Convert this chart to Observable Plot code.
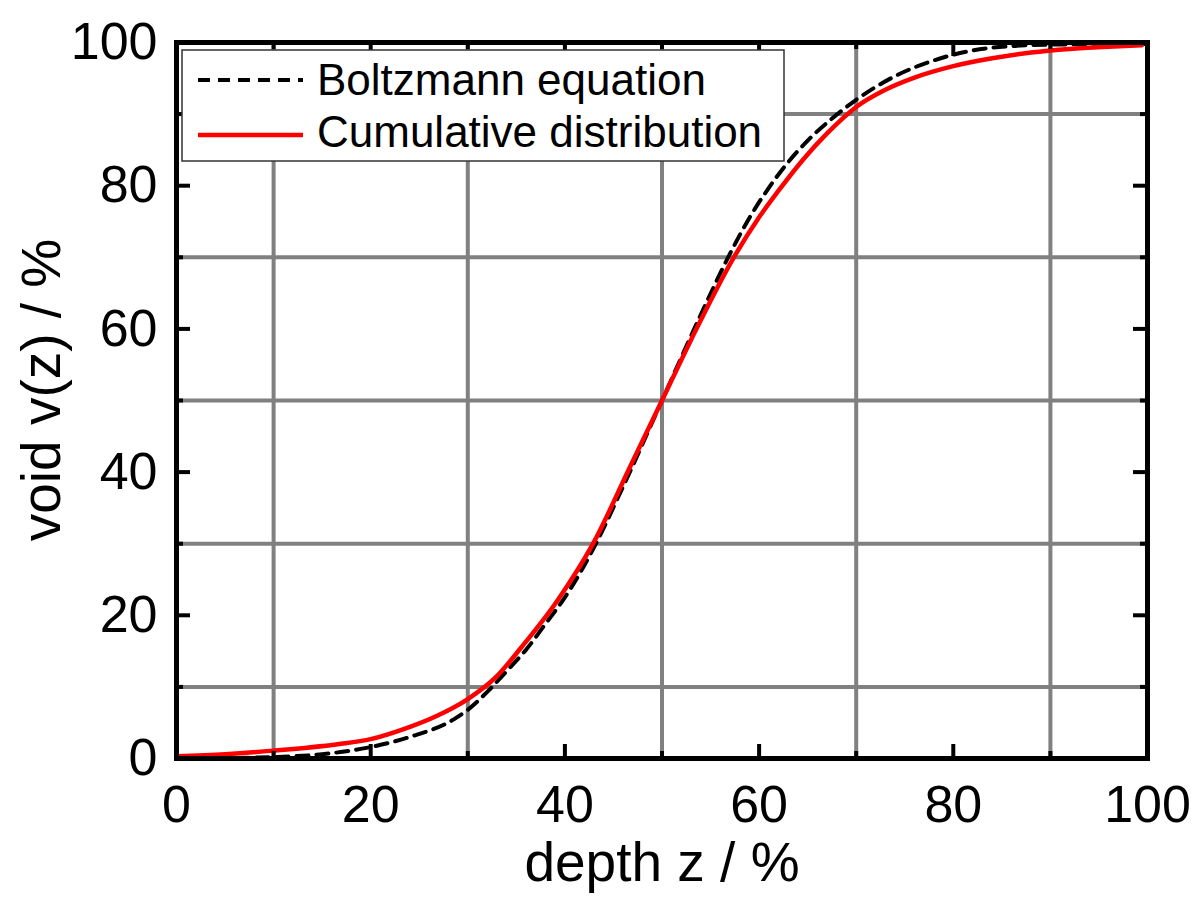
<!DOCTYPE html>
<html>
<head>
<meta charset="utf-8">
<script src="https://cdn.jsdelivr.net/npm/d3@7"></script>
<script src="https://cdn.jsdelivr.net/npm/@observablehq/plot@0.6"></script>
<style>
  html, body { margin: 0; padding: 0; background: #fff; }
  #chart svg { display: block; }
</style>
</head>
<body>
<div id="chart"></div>
<script>
// ---- data ----
const seriesNames = ["Boltzmann equation", "Cumulative distribution"];

const boltzZ = [0, 5, 10, 15, 20, 24, 28.6, 30, 32, 34, 36, 38, 40, 43, 46, 50, 54, 57, 59, 61, 63, 65, 67.7, 70, 74, 78, 82, 86, 90, 100];
const boltzV = [0, 0.05, 0.2, 0.6, 1.6, 3.0, 5.5, 6.8, 9.3, 12.2, 15.2, 18.8, 22.5, 29.5, 38, 50, 62, 70.5, 75.5, 79.7, 83.3, 86.3, 89.6, 92, 95.3, 97.5, 98.9, 99.5, 99.7, 99.8];

const cumZ = [0, 5, 10, 16.6, 20, 23.4, 26.9, 30, 33, 35.5, 39.2, 42.9, 46.8, 50, 53, 57.4, 60, 62, 64.5, 67, 70, 73, 76, 80, 84, 88, 92, 96, 99.4];
const cumV = [0.3, 0.6, 1.1, 2.0, 2.7, 4.1, 6.0, 8.3, 11.5, 15.5, 22, 30, 41, 50, 58.5, 70, 75.6, 79.3, 83.6, 87.3, 91.0, 93.4, 95.1, 96.7, 97.8, 98.6, 99.1, 99.4, 99.6];

const xTickLabels = [0, 20, 40, 60, 80, 100];
const yTickLabels = [0, 20, 40, 60, 80, 100];
const majorTicks = [20, 40, 60, 80];
const minorTicks = [10, 30, 50, 70, 90];
const gridLines = [10, 30, 50, 70, 90];

const xTitle = "depth z / %";
const yTitle = "void v(z) / %";

// ---- layout ----
const W = 1200, H = 899;
const mL = 176, mR = 53, mT = 42, mB = 141;
const pw = W - mL - mR, ph = H - mT - mB;
const FONT = "'Liberation Sans', Arial, Helvetica, sans-serif";
const majorLen = 14, minorLen = 7;

const boltz = boltzZ.map((z, i) => ({z, v: boltzV[i]}));
const cum = cumZ.map((z, i) => ({z, v: cumV[i]}));

const tickStyle = {stroke: "black", strokeWidth: 4};

const chart = Plot.plot({
  width: W, height: H,
  marginLeft: mL, marginRight: mR, marginTop: mT, marginBottom: mB,
  style: {fontFamily: FONT, background: "white", color: "black"},
  x: {domain: [0, 100]},
  y: {domain: [0, 100]},
  marks: [
    Plot.ruleX(gridLines, {stroke: "#808080", strokeWidth: 4}),
    Plot.ruleY(gridLines, {stroke: "#808080", strokeWidth: 4}),
    Plot.line(boltz, {x: "z", y: "v", stroke: "black", strokeWidth: 4, strokeDasharray: "12,8", curve: "monotone-x"}),
    Plot.line(cum, {x: "z", y: "v", stroke: "#ff0000", strokeWidth: 4.5, curve: "monotone-x"}),
    // inward ticks: bottom / top
    Plot.ruleX(majorTicks, {...tickStyle, insetTop: ph - majorLen}),
    Plot.ruleX(majorTicks, {...tickStyle, insetBottom: ph - majorLen}),
    Plot.ruleX(minorTicks, {...tickStyle, insetTop: ph - minorLen}),
    Plot.ruleX(minorTicks, {...tickStyle, insetBottom: ph - minorLen}),
    // inward ticks: left / right
    Plot.ruleY(majorTicks, {...tickStyle, insetRight: pw - majorLen}),
    Plot.ruleY(majorTicks, {...tickStyle, insetLeft: pw - majorLen}),
    Plot.ruleY(minorTicks, {...tickStyle, insetRight: pw - minorLen}),
    Plot.ruleY(minorTicks, {...tickStyle, insetLeft: pw - minorLen}),
    Plot.frame({stroke: "black", strokeWidth: 5}),
    Plot.axisX(xTickLabels, {tickSize: 0, tickPadding: 27, fontSize: 52, label: null}),
    Plot.axisY(yTickLabels, {tickSize: 0, tickPadding: 19, fontSize: 52, label: null}),
    Plot.text([xTitle], {frameAnchor: "bottom", lineAnchor: "bottom", dy: 122, fontSize: 55, fill: "black"})
  ]
});

document.getElementById("chart").appendChild(chart);

const svg = d3.select(chart);

// ---- y title (rotated) ----
svg.append("text")
  .attr("transform", `translate(60, ${mT + ph / 2 - 10}) rotate(-90)`)
  .attr("text-anchor", "middle")
  .attr("font-family", FONT)
  .attr("font-size", 55)
  .attr("fill", "black")
  .text(yTitle);

// ---- legend ----
const lg = svg.append("g").attr("font-family", FONT).attr("text-anchor", "start");
lg.append("rect").attr("x", 182).attr("y", 50).attr("width", 602).attr("height", 111)
  .attr("fill", "white").attr("stroke", "#333").attr("stroke-width", 1.5);
const legendStyles = [
  {stroke: "black", dash: "12,8", width: 4},
  {stroke: "#ff0000", dash: null, width: 4.5}
];
const legendLineY = [80, 135];
const legendBase = [95, 147];
seriesNames.forEach((name, i) => {
  lg.append("line").attr("x1", 198).attr("x2", 303)
    .attr("y1", legendLineY[i]).attr("y2", legendLineY[i])
    .attr("stroke", legendStyles[i].stroke).attr("stroke-width", legendStyles[i].width)
    .attr("stroke-dasharray", legendStyles[i].dash);
  lg.append("text").attr("x", 317).attr("y", legendBase[i])
    .attr("text-anchor", "start")
    .attr("font-size", 44).attr("fill", "black").text(name);
});
</script>
</body>
</html>
